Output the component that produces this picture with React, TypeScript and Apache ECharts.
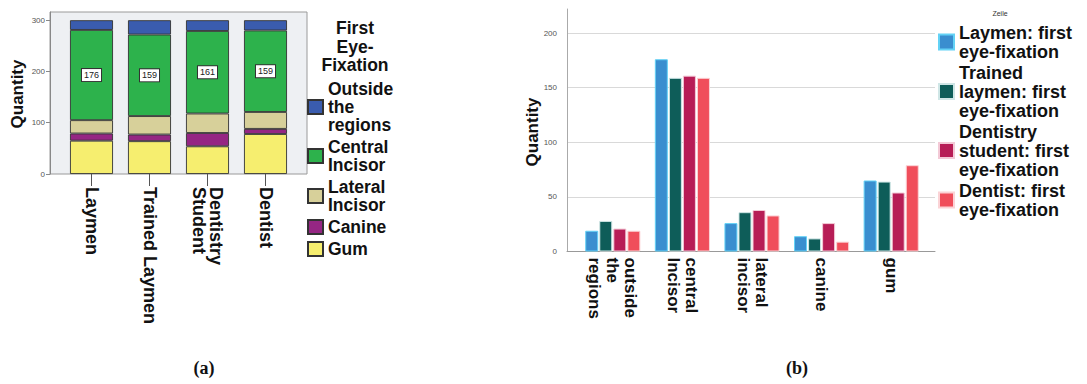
import React, { useEffect, useRef } from "react";
import * as echarts from "echarts";

// ---------- Data (a) : stacked bars ----------
const groupsA = ["Laymen", "Trained Laymen", "Dentistry\nStudent", "Dentist"];
const regionsA = ["Outside the regions", "Central Incisor", "Lateral Incisor", "Canine", "Gum"];
const regionLabelsA = ["Outside\nthe\nregions", "Central\nIncisor", "Lateral\nIncisor", "Canine", "Gum"];
const outsideVals = [19, 28, 21, 20];
const centralVals = [176, 159, 161, 159];
const lateralVals = [26, 36, 38, 33];
const canineVals = [14, 13, 26, 10];
const gumVals = [65, 64, 54, 78];
const regionColorsA = ["#3a5cae", "#2db24c", "#d7d09a", "#952683", "#f6ee6f"];
const yTicksMaxA = 316;

// ---------- Data (b) : grouped bars ----------
const categoriesB = ["outside\nthe\nregions", "central\nIncisor", "lateral\nincisor", "canine", "gum"];
const seriesNamesB = [
  "Laymen: first eye-fixation",
  "Trained laymen: first eye-fixation",
  "Dentistry student: first eye-fixation",
  "Dentist: first eye-fixation",
];
const seriesLabelsB = [
  "Laymen: first\neye-fixation",
  "Trained\nlaymen: first\neye-fixation",
  "Dentistry\nstudent: first\neye-fixation",
  "Dentist: first\neye-fixation",
];
const laymenB = [19, 176, 26, 14, 65];
const trainedB = [28, 159, 36, 12, 64];
const studentB = [21, 161, 38, 26, 54];
const dentistB = [19, 159, 33, 9, 79];
const colorsB = ["#3a8ecf", "#0e5d59", "#b71d56", "#f04e5b"];
const borderColorsB = ["#63d2f6", "#cfe6e6", "#f3c9d6", "#fbd3d6"];
const yMaxB = 222;

const FONT = "'Liberation Sans', Arial, sans-serif";

export default function App() {
  const ref = useRef<HTMLDivElement>(null);

  useEffect(() => {
    if (!ref.current) return;
    const chart = echarts.init(ref.current, undefined, { renderer: "svg" });

    const valsA = [outsideVals, centralVals, lateralVals, canineVals, gumVals];
    const stackOrder = [4, 3, 2, 1, 0]; // bottom to top: Gum, Canine, Lateral, Central, Outside
    const seriesA = stackOrder.map((i) => ({
      name: regionsA[i],
      type: "bar",
      stack: "a",
      xAxisIndex: 1,
      yAxisIndex: 1,
      barWidth: 43,
      data: valsA[i],
      itemStyle: { color: regionColorsA[i], borderColor: "#333", borderWidth: 0.9 },
      label:
        i === 1
          ? {
              show: true,
              position: "inside",
              fontSize: 9,
              fontFamily: FONT,
              color: "#222",
              backgroundColor: "#fff",
              borderColor: "#333",
              borderWidth: 1,
              padding: [2, 2, 1, 2],
            }
          : { show: false },
    }));

    const valsB = [laymenB, trainedB, studentB, dentistB];
    const seriesB = seriesNamesB.map((name, i) => ({
      name,
      type: "bar",
      xAxisIndex: 3,
      yAxisIndex: 3,
      barWidth: 13,
      barGap: "8%",
      data: valsB[i],
      itemStyle: { color: colorsB[i], borderColor: borderColorsB[i], borderWidth: 1 },
    }));

    const labelMapA: Record<string, string> = {};
    regionsA.forEach((n, i) => (labelMapA[n] = regionLabelsA[i]));
    const labelMapB: Record<string, string> = {};
    seriesNamesB.forEach((n, i) => (labelMapB[n] = seriesLabelsB[i]));

    chart.setOption({
      animation: false,
      backgroundColor: "#ffffff",
      textStyle: { fontFamily: FONT },
      grid: [
        { left: 50, top: 12, width: 257, height: 162, show: true, backgroundColor: "#eef0f3", borderColor: "#9a9a9a", borderWidth: 1 },
        { left: 62.5, top: 12, width: 232, height: 162 },
        { left: 567, top: 9, width: 368, height: 242.5 },
        { left: 578, top: 9, width: 348, height: 242.5 },
      ],
      xAxis: [
        { gridIndex: 0, type: "value", min: 0, max: 1, show: false },
        {
          gridIndex: 1,
          type: "category",
          data: groupsA,
          axisLine: { show: false },
          axisTick: { show: true, alignWithLabel: true, length: 12, lineStyle: { color: "#555" } },
          axisLabel: {
            rotate: -90,
            margin: 13,
            fontSize: 18,
            fontWeight: "bold",
            color: "#111",
            lineHeight: 17,
            fontFamily: FONT,
          },
        },
        {
          gridIndex: 2,
          type: "value",
          min: 0,
          max: 1,
          axisLine: { show: true, lineStyle: { color: "#999" } },
          axisTick: { show: false },
          axisLabel: { show: false },
          splitLine: { show: false },
        },
        {
          gridIndex: 3,
          type: "category",
          data: categoriesB,
          axisLine: { show: false },
          axisTick: { show: false },
          axisLabel: {
            rotate: -90,
            margin: 6,
            fontSize: 17,
            fontWeight: "bold",
            color: "#111",
            lineHeight: 18,
            fontFamily: FONT,
          },
        },
      ],
      yAxis: [
        {
          gridIndex: 0,
          type: "value",
          min: 0,
          max: yTicksMaxA,
          interval: 100,
          axisLine: { show: true, lineStyle: { color: "#888" } },
          axisTick: { show: true, length: 4, lineStyle: { color: "#888" } },
          axisLabel: { fontSize: 8, color: "#555", margin: 5, showMaxLabel: false },
          splitLine: { show: false },
        },
        { gridIndex: 1, type: "value", min: 0, max: yTicksMaxA, show: false },
        {
          gridIndex: 2,
          type: "value",
          min: 0,
          max: yMaxB,
          interval: 50,
          axisLine: { show: true, lineStyle: { color: "#aaa" } },
          axisTick: { show: false },
          axisLabel: { fontSize: 8, color: "#555", margin: 10, showMaxLabel: false },
          splitLine: { show: true, showMaxLine: false, showMinLine: false, lineStyle: { color: "#d9d9d9" } },
        },
        { gridIndex: 3, type: "value", min: 0, max: yMaxB, show: false },
      ],
      legend: [
        {
          data: regionsA,
          orient: "vertical",
          left: 307,
          top: 80,
          padding: 0,
          itemWidth: 15,
          itemHeight: 14,
          itemGap: 4,
          icon: "rect",
          formatter: (n: string) => labelMapA[n] || n,
          textStyle: { fontSize: 17.5, fontWeight: "bold", color: "#111", lineHeight: 18, fontFamily: FONT },
        },
        {
          data: seriesNamesB,
          orient: "vertical",
          left: 938,
          top: 23,
          padding: 0,
          itemWidth: 15,
          itemHeight: 15,
          itemGap: 2,
          icon: "rect",
          formatter: (n: string) => labelMapB[n] || n,
          textStyle: { fontSize: 18, fontWeight: "bold", color: "#111", lineHeight: 19, fontFamily: FONT },
        },
      ],
      title: [
        {
          text: "First\nEye-\nFixation",
          left: 355,
          top: 19,
          textAlign: "center",
          padding: 0,
          textStyle: { fontSize: 17.5, fontWeight: "bold", color: "#111", lineHeight: 18.5, fontFamily: FONT },
        },
        {
          text: "Zeile",
          left: 1000,
          top: 10,
          textAlign: "center",
          padding: 0,
          textStyle: { fontSize: 7, fontWeight: "normal", color: "#333", fontFamily: FONT },
        },
        {
          text: "{p|(}{b|a}{p|)}",
          left: 204,
          top: 359,
          textAlign: "center",
          padding: 0,
          textStyle: {
            rich: {
              p: { fontSize: 18, fontFamily: "'Liberation Serif', serif", color: "#111" },
              b: { fontSize: 18, fontFamily: "'Liberation Serif', serif", fontWeight: "bold", color: "#111" },
            },
          },
        },
        {
          text: "{p|(}{b|b}{p|)}",
          left: 797,
          top: 359,
          textAlign: "center",
          padding: 0,
          textStyle: {
            rich: {
              p: { fontSize: 18, fontFamily: "'Liberation Serif', serif", color: "#111" },
              b: { fontSize: 18, fontFamily: "'Liberation Serif', serif", fontWeight: "bold", color: "#111" },
            },
          },
        },
      ],
      graphic: [
        {
          type: "text",
          x: 17,
          y: 94,
          rotation: Math.PI / 2,
          style: { text: "Quantity", font: `bold 17px ${FONT}`, fill: "#111", align: "center", verticalAlign: "middle" },
        },
        {
          type: "text",
          x: 532,
          y: 132,
          rotation: Math.PI / 2,
          style: { text: "Quantity", font: `bold 17px ${FONT}`, fill: "#111", align: "center", verticalAlign: "middle" },
        },
      ],
      series: [...seriesA, ...seriesB],
    });

    return () => chart.dispose();
  }, []);

  return (
    <div
      ref={ref}
      style={{ position: "absolute", left: 0, top: 0, width: 1087, height: 384, background: "#fff" }}
    />
  );
}
